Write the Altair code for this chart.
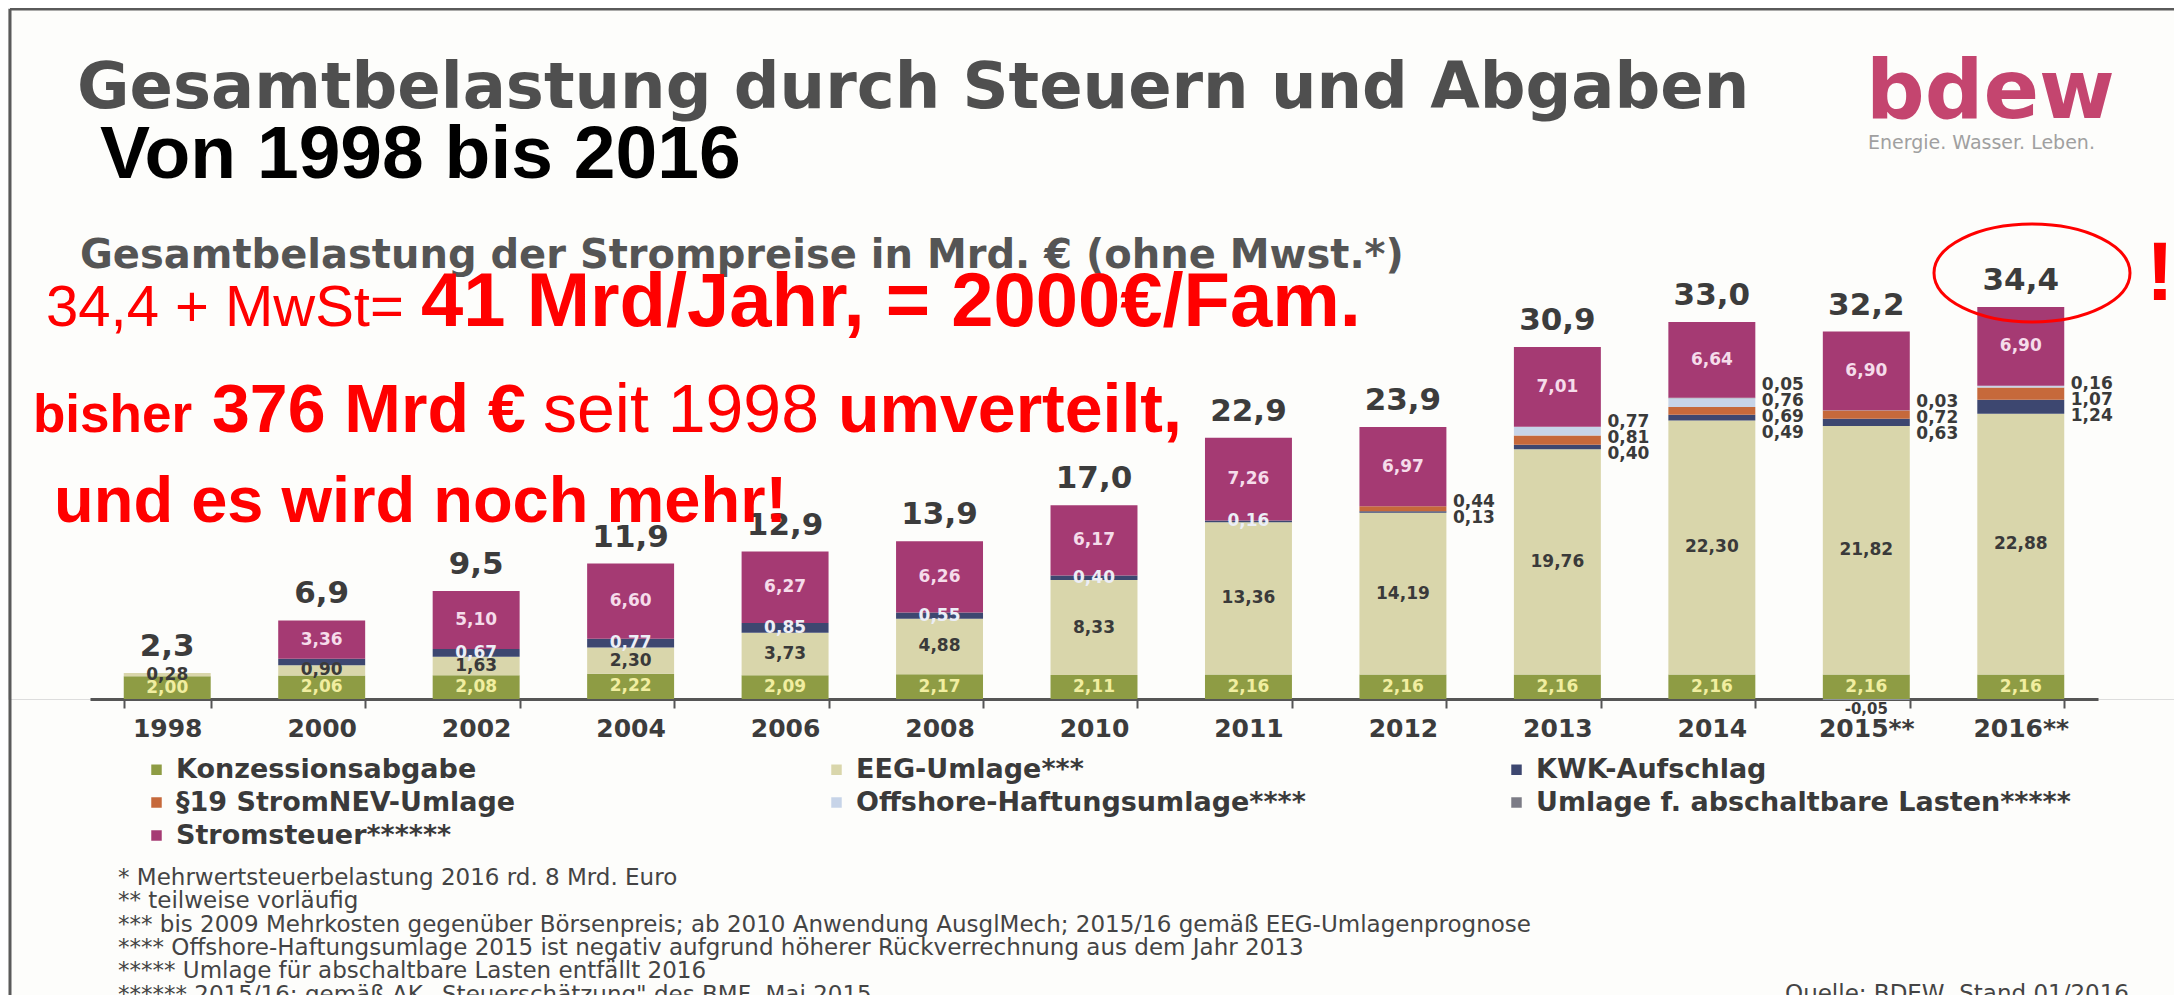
import altair as alt
import pandas as pd

# ---------------- data ----------------
years = ["1998", "2000", "2002", "2004", "2006", "2008", "2010", "2011",
         "2012", "2013", "2014", "2015**", "2016**"]
components = ["Konzessionsabgabe", "EEG-Umlage***", "KWK-Aufschlag",
              "§19 StromNEV-Umlage", "Offshore-Haftungsumlage****",
              "Umlage f. abschaltbare Lasten*****", "Stromsteuer******"]
konzession = [2.00, 2.06, 2.08, 2.22, 2.09, 2.17, 2.11, 2.16, 2.16, 2.16, 2.16, 2.16, 2.16]
eeg = [0.28, 0.90, 1.63, 2.30, 3.73, 4.88, 8.33, 13.36, 14.19, 19.76, 22.30, 21.82, 22.88]
kwk = [0.00, 0.58, 0.67, 0.77, 0.85, 0.55, 0.40, 0.16, 0.13, 0.40, 0.49, 0.63, 1.24]
stromnev = [0, 0, 0, 0, 0, 0, 0, 0, 0.44, 0.81, 0.69, 0.72, 1.07]
offshore = [0, 0, 0, 0, 0, 0, 0, 0, 0, 0.77, 0.76, -0.05, 0.16]
abschaltbar = [0, 0, 0, 0, 0, 0, 0, 0, 0, 0, 0.05, 0.03, 0]
stromsteuer = [0, 3.36, 5.10, 6.60, 6.27, 6.26, 6.17, 7.26, 6.97, 7.01, 6.64, 6.90, 6.90]
totals = ["2,3", "6,9", "9,5", "11,9", "12,9", "13,9", "17,0", "22,9", "23,9",
          "30,9", "33,0", "32,2", "34,4"]
kwk_inner_years = ["2002", "2004", "2006", "2008", "2010", "2011"]
side_label_years = ["2012", "2013", "2014", "2015**", "2016**"]
colors = ["#8e9c44", "#d9d6ab", "#3d4770", "#c6693b", "#c7d4e8", "#7c7c86", "#a53a73"]

footnotes = [
    "* Mehrwertsteuerbelastung 2016 rd. 8 Mrd. Euro",
    "** teilweise vorläufig",
    "*** bis 2009 Mehrkosten gegenüber Börsenpreis; ab 2010 Anwendung AusglMech; 2015/16 gemäß EEG-Umlagenprognose",
    "**** Offshore-Haftungsumlage 2015 ist negativ aufgrund höherer Rückverrechnung aus dem Jahr 2013",
    "***** Umlage für abschaltbare Lasten entfällt 2016",
    "****** 2015/16: gemäß AK „Steuerschätzung\" des BMF, Mai 2015",
]
source_note = "Quelle: BDEW, Stand 01/2016"

series = [konzession, eeg, kwk, stromnev, offshore, abschaltbar, stromsteuer]


def fmt(v):
    return f"{v:.2f}".replace(".", ",")


rows, side_rows, tot_rows = [], [], []
PX_PER_UNIT = 691 / 60.67
for i, yr in enumerate(years):
    cum = 0.0
    for k, comp in enumerate(components):
        v = series[k][i]
        if v == 0:
            continue
        if v > 0:
            mid = cum + v / 2
            cum += v
        else:
            mid = v / 2
        rows.append(dict(year=yr, comp=comp, idx=k, value=v, mid=mid, label=fmt(v)))
    tot_rows.append(dict(year=yr, top=cum, label=totals[i]))
    if yr in side_label_years:
        base = konzession[i] + eeg[i]
        small = [(k, series[k][i]) for k in (5, 4, 3, 2) if series[k][i] > 0]
        top = base + sum(v for _, v in small)
        center = (base + top) / 2
        step = 16 / PX_PER_UNIT
        n = len(small)
        for j, (k, v) in enumerate(small):
            side_rows.append(dict(year=yr, label=fmt(v), ypos=center + ((n - 1) / 2 - j) * step))

df = pd.DataFrame(rows)
side_df = pd.DataFrame(side_rows)
tot_df = pd.DataFrame(tot_rows)

# ---------------- scales / encodings ----------------
xs = alt.Scale(domain=years, range=[82, 2090], paddingInner=0.437, paddingOuter=0.2185)
ys = alt.Scale(domain=[0, 60.67], nice=False, zero=True)
xaxis = alt.Axis(title=None, domainColor="#555555", domainWidth=3, tickColor="#555555",
                 tickWidth=2, tickSize=9, tickBand="extent", labelFont="DejaVu Sans",
                 labelFontWeight="bold", labelFontSize=25, labelColor="#3c3c3c",
                 labelPadding=8, labelAngle=0, grid=False)
X = alt.X("year:N", sort=years, scale=xs, axis=xaxis)

bars = alt.Chart(df).mark_bar().encode(
    x=X,
    y=alt.Y("value:Q", scale=ys, axis=None, stack="zero"),
    color=alt.Color("comp:N", scale=alt.Scale(domain=components, range=colors),
                    legend=alt.Legend(orient="none", legendX=135, legendY=748, columns=3,
                                      direction="horizontal",
                                      gridAlign="all", columnPadding=112, rowPadding=5,
                                      symbolType="square", symbolSize=110, symbolStrokeWidth=0,
                                      labelFont="DejaVu Sans", labelFontWeight="bold",
                                      labelFontSize=27, labelColor="#3a3a3a", labelLimit=1000,
                                      labelOffset=6, title=None)),
    order=alt.Order("idx:Q", sort="ascending"),
)

Ymid = alt.Y("mid:Q", scale=ys, axis=None)


def inner(filter_expr, color):
    return alt.Chart(df).transform_filter(filter_expr).mark_text(
        font="DejaVu Sans", fontWeight="bold", fontSize=17, color=color, baseline="middle"
    ).encode(x=X, y=Ymid, text="label:N")


kwk_list = "[" + ",".join(f"'{y}'" for y in kwk_inner_years) + "]"
lab_konz = inner("datum.idx == 0", "#f1eea0")
lab_eeg = inner("datum.idx == 1", "#3a3a3a")
lab_kwk = inner(f"datum.idx == 2 && indexof({kwk_list}, datum.year) >= 0", "#eceef6")
lab_steuer = inner("datum.idx == 6", "#f5dcea")
lab_neg = alt.Chart(df).transform_filter("datum.value < 0").mark_text(
    font="DejaVu Sans", fontWeight="bold", fontSize=15, color="#3a3a3a", baseline="middle", dy=10
).encode(x=X, y=alt.Y("zero:Q", scale=ys, axis=None), text="label:N").transform_calculate(zero="0")

lab_side = alt.Chart(side_df).mark_text(
    font="DejaVu Sans", fontWeight="bold", fontSize=17, color="#3a3a3a",
    align="left", baseline="middle", dx=50
).encode(x=X, y=alt.Y("ypos:Q", scale=ys, axis=None), text="label:N")

lab_tot = alt.Chart(tot_df).mark_text(
    font="DejaVu Sans", fontWeight="bold", fontSize=31, color="#3c3c3c",
    baseline="alphabetic", dy=-17
).encode(x=X, y=alt.Y("top:Q", scale=ys, axis=None), text="label:N")

# ---------------- annotations ----------------
one = alt.Data(values=[{"a": 1}])


def txt(s, x, y, size, color, font="Liberation Sans", weight="normal", align="left"):
    return alt.Chart(one).mark_text(
        text=s, font=font, fontSize=size, fontWeight=weight, color=color,
        align=align, baseline="alphabetic"
    ).encode(x=alt.value(x - 8), y=alt.value(y - 8))


RED = "#ff0000"
annos = [
    txt("Gesamtbelastung durch Steuern und  Abgaben", 77, 108, 64, "#4f4f4f", "DejaVu Sans", "bold"),
    txt("bdew", 1866, 118, 82, "#c4456f", "DejaVu Sans", "bold"),
    txt("Energie. Wasser. Leben.", 1868, 149, 19, "#a0a0a0", "DejaVu Sans"),
    txt("Von 1998 bis 2016", 100, 178, 75, "#000000", "Liberation Sans", "bold"),
    txt("Gesamtbelastung der Strompreise in Mrd. € (ohne Mwst.*)", 80, 268, 40, "#555555", "DejaVu Sans", "bold"),
    txt("34,4 + MwSt=", 46, 326, 58, RED),
    txt("41 Mrd/Jahr, = 2000€/Fam.", 421, 326, 76, RED, weight="bold"),
    txt("bisher", 33, 432, 53, RED, weight="bold"),
    txt("376 Mrd €", 212, 432, 68, RED, weight="bold"),
    txt("seit 1998", 543, 432, 68, RED),
    txt("umverteilt,", 838, 432, 68, RED, weight="bold"),
    txt("und es wird noch mehr!", 54, 522, 65, RED, weight="bold"),
    txt("!", 2160, 300, 84, RED, weight="bold", align="center"),
]
for j, line in enumerate(footnotes):
    annos.append(txt(line, 118, 885 + 23.3 * j, 23, "#444444", "DejaVu Sans"))
annos.append(txt(source_note, 2129, 1001, 23, "#444444", "DejaVu Sans", align="right"))

ellipse = alt.Chart(one).mark_point(
    shape="M-1,0A1,0.5,0,1,1,1,0A1,0.5,0,1,1,-1,0Z", filled=False,
    stroke=RED, strokeWidth=3, opacity=1
).encode(x=alt.value(2032 - 8), y=alt.value(273 - 8), size=alt.value(196 * 196))

frame_top = alt.Chart(one).mark_rule(color="#5a5a5a", strokeWidth=3).encode(
    x=alt.value(2), x2=alt.value(2166), y=alt.value(1))
frame_left = alt.Chart(one).mark_rule(color="#5a5a5a", strokeWidth=3).encode(
    x=alt.value(2), y=alt.value(1), y2=alt.value(988))

chart = alt.layer(
    frame_top, frame_left, bars, lab_konz, lab_eeg, lab_kwk, lab_steuer, lab_neg,
    lab_side, lab_tot, ellipse, *annos
).properties(
    width=2166, height=691,
    autosize=alt.AutoSizeParams(type="none"),
    padding={"left": 0, "top": 0, "right": 0, "bottom": 296},
).configure_view(strokeWidth=0).configure(background="#fdfdfb")

chart.save("out.html", embed_options={"renderer": "svg", "actions": False})
